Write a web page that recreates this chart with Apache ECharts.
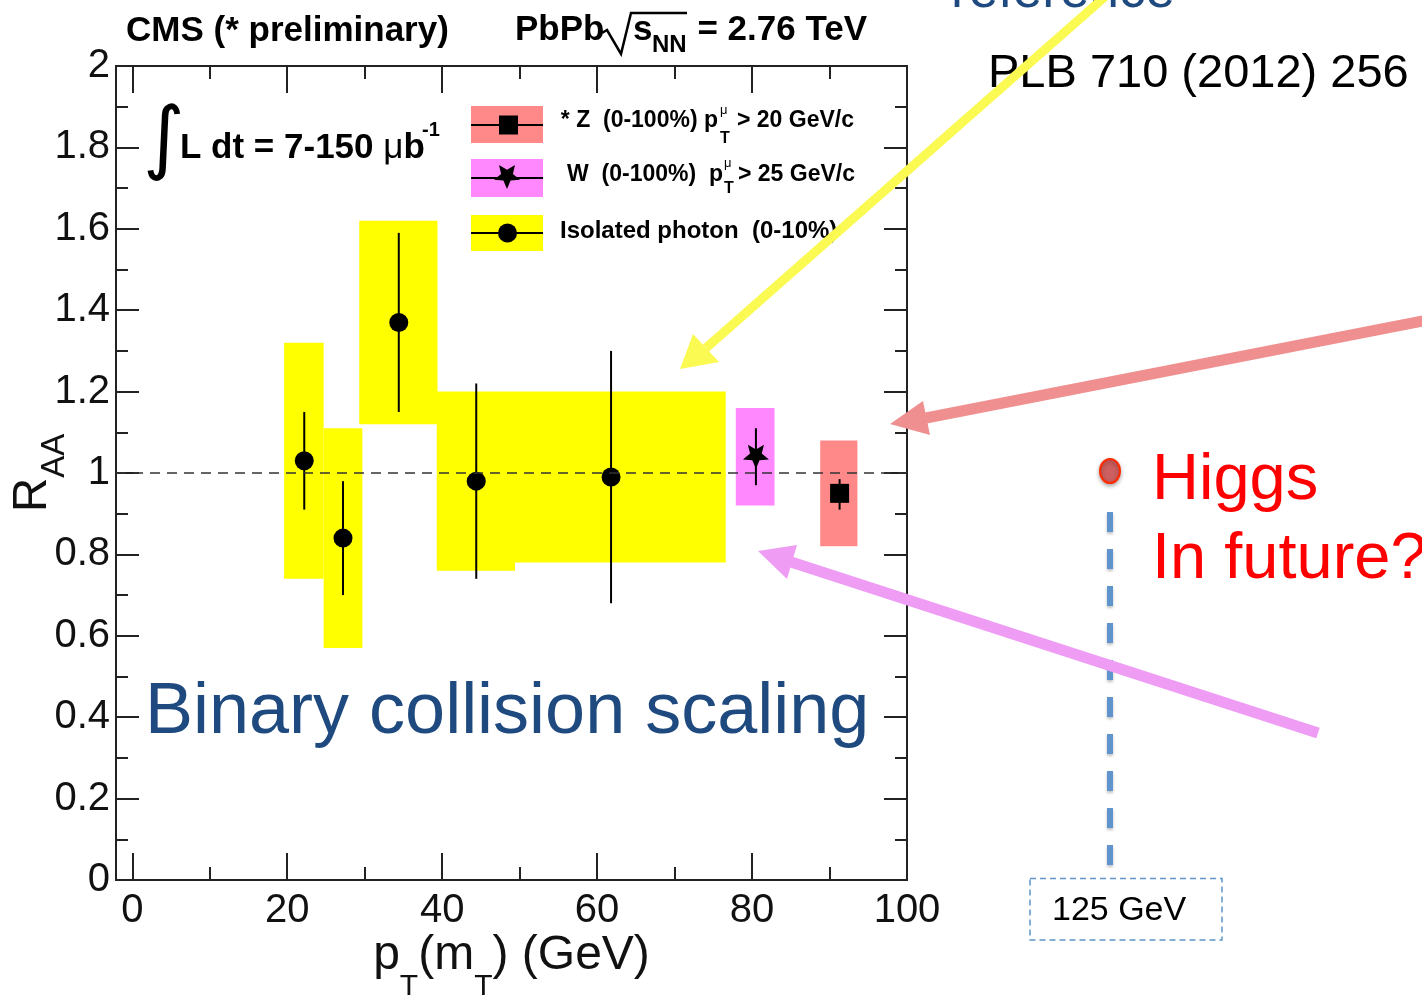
<!DOCTYPE html>
<html><head><meta charset="utf-8">
<script src="https://cdn.jsdelivr.net/npm/echarts@6/dist/echarts.min.js"></script>
<style>html,body{margin:0;padding:0;background:#fff;overflow:hidden}#c{width:1422px;height:998px}</style>
</head><body><div id="c"></div>
<script>
// ---------- data ----------
const xMajorTicks = [0, 20, 40, 60, 80, 100];
const xMinorTicks = [10, 30, 50, 70, 90];
// Isolated photon (0-10%)
const photonPt      = [22.2, 27.2, 34.4, 44.4, 61.8];
const photonRaa     = [1.03, 0.84, 1.37, 0.98, 0.99];
const photonStatLo  = [0.91, 0.70, 1.15, 0.74, 0.68];
const photonStatHi  = [1.15, 0.98, 1.59, 1.22, 1.30];
const photonBinLo   = [19.6, 24.7, 29.3, 39.3, 49.4];
const photonBinHi   = [24.7, 29.7, 39.4, 49.4, 76.6];
const photonSystLo  = [0.74, 0.57, 1.12, 0.76, 0.78];
const photonSystHi  = [1.32, 1.11, 1.62, 1.20, 1.20];
// W (0-100%)
const wPt = [80.5], wRaa = [1.04], wStatLo = [0.97], wStatHi = [1.11];
const wBinLo = [77.9], wBinHi = [82.9], wSystLo = [0.92], wSystHi = [1.16];
// Z (0-100%)
const zPt = [91.3], zRaa = [0.95], zStatLo = [0.91], zStatHi = [0.985];
const zBinLo = [88.8], zBinHi = [93.6], zSystLo = [0.82], zSystHi = [1.08];
const unityLevel = 1;

// ---------- helpers ----------
const FF = 'Liberation Sans, Arial, sans-serif';
const zip = (...arrs) => arrs[0].map((_, i) => arrs.map(a => a[i]));
const STAR = 'path://M100 200 L73.5 136.4 L4.9 130.9 L57.2 86.1 L41.2 19.1 L100 55 L158.8 19.1 L142.8 86.1 L195.1 130.9 L126.5 136.4 Z';
const starPts = [[0, 12], [-3.6, 3.6], [-13, 2.8], [-5.9, -3.1], [-8, -12], [0, -7.2], [8, -12], [5.9, -3.1], [13, 2.8], [3.6, 3.6]];
function boxItem(color) {
  return function (params, api) {
    const a = api.coord([api.value(0), api.value(3)]);
    const b = api.coord([api.value(1), api.value(2)]);
    return { type: 'rect', shape: { x: a[0], y: a[1], width: b[0] - a[0], height: b[1] - a[1] }, style: { fill: color } };
  };
}
function errItem(params, api) {
  const a = api.coord([api.value(0), api.value(1)]);
  const b = api.coord([api.value(0), api.value(2)]);
  return { type: 'line', shape: { x1: a[0], y1: a[1], x2: b[0], y2: b[1] }, style: { stroke: '#000', lineWidth: 2 } };
}
const tickStyle = { color: '#222', width: 2 };
function xAx(pos, vals, len, labels) {
  return {
    type: 'value', min: -2.1, max: 100, position: pos,
    axisLine: { show: false, onZero: false }, splitLine: { show: false },
    axisTick: { show: true, inside: true, length: len, customValues: vals, lineStyle: tickStyle },
    axisLabel: labels ? { show: true, customValues: vals, margin: 11, fontSize: 40, color: '#111', fontFamily: FF } : { show: false }
  };
}
function yAx(pos, labels) {
  return {
    type: 'value', min: 0, max: 2, interval: 0.2, position: pos,
    axisLine: { show: false, onZero: false }, splitLine: { show: false },
    axisTick: { show: true, inside: true, length: 23, lineStyle: tickStyle },
    minorTick: { show: true, splitNumber: 2, length: 12, lineStyle: tickStyle },
    axisLabel: labels ? { show: true, margin: 6, fontSize: 40, color: '#111', fontFamily: FF } : { show: false }
  };
}
function txt(text, x, y, size, opts) {
  opts = opts || {};
  return {
    type: 'text', z: 50, silent: true,
    style: {
      text: text, x: x, y: y, fontSize: size, fontFamily: opts.family || FF, fontWeight: opts.bold ? 'bold' : 'normal',
      fill: opts.color || '#000', align: opts.align || 'left', textAlign: opts.align || 'left',
      verticalAlign: 'middle', textVerticalAlign: 'middle', rich: opts.rich
    }
  };
}

const xMain = xAx('bottom', xMajorTicks, 27, true);
xMain.name = '{m|p}{s|T}{m|(m}{s|T}{m|) (GeV)}';
xMain.nameLocation = 'middle';
xMain.nameGap = 52;
xMain.nameMoveOverlap = false;
xMain.nameTextStyle = { rich: {
  m: { fontSize: 48, fontFamily: FF, color: '#111', verticalAlign: 'top' },
  s: { fontSize: 30, fontFamily: FF, color: '#111', verticalAlign: 'top', padding: [40, 0, 0, 0] }
} };
const yMain = yAx('left', true);
yMain.name = '{r|R}{s|AA}';
yMain.nameLocation = 'middle';
yMain.nameGap = 45;
yMain.nameRotate = 90;
yMain.nameMoveOverlap = false;
yMain.nameTextStyle = { rich: {
  r: { fontSize: 48, fontFamily: FF, color: '#111', verticalAlign: 'top' },
  s: { fontSize: 33, fontFamily: FF, color: '#111', verticalAlign: 'top', padding: [29, 0, 0, 0] }
} };

const chart = echarts.init(document.getElementById('c'));
chart.setOption({
  animation: false,
  backgroundColor: '#fff',
  grid: { left: 116, right: 515, top: 66, bottom: 118, containLabel: false, outerBoundsMode: 'none',
    show: true, borderColor: '#222', borderWidth: 2, backgroundColor: 'transparent' },
  xAxis: [xMain, xAx('bottom', xMinorTicks, 13, false), xAx('top', xMajorTicks, 27, false), xAx('top', xMinorTicks, 13, false)],
  yAxis: [yMain, yAx('right', false)],
  series: [
    { name: 'Isolated photon syst', type: 'custom', z: 1, renderItem: boxItem('#ffff00'), encode: { x: [0, 1], y: [2, 3] },
      data: zip(photonBinLo, photonBinHi, photonSystLo, photonSystHi) },
    { name: 'W syst', type: 'custom', z: 1, renderItem: boxItem('#ff88ff'), encode: { x: [0, 1], y: [2, 3] },
      data: zip(wBinLo, wBinHi, wSystLo, wSystHi) },
    { name: 'Z syst', type: 'custom', z: 1, renderItem: boxItem('#ff8888'), encode: { x: [0, 1], y: [2, 3] },
      data: zip(zBinLo, zBinHi, zSystLo, zSystHi) },
    { name: 'unity', type: 'line', z: 2, data: [],
      markLine: { silent: true, symbol: ['none', 'none'], label: { show: false }, animation: false,
        lineStyle: { color: '#333', type: [10, 7], width: 1.5 }, data: [{ yAxis: unityLevel }] } },
    { name: 'Isolated photon stat', type: 'custom', z: 3, renderItem: errItem, encode: { x: 0, y: [1, 2] },
      data: zip(photonPt, photonStatLo, photonStatHi) },
    { name: 'W stat', type: 'custom', z: 3, renderItem: errItem, encode: { x: 0, y: [1, 2] },
      data: zip(wPt, wStatLo, wStatHi) },
    { name: 'Z stat', type: 'custom', z: 3, renderItem: errItem, encode: { x: 0, y: [1, 2] },
      data: zip(zPt, zStatLo, zStatHi) },
    { name: 'Isolated photon (0-10%)', type: 'scatter', z: 4, symbol: 'circle', symbolSize: 19,
      itemStyle: { color: '#000', opacity: 1 }, data: zip(photonPt, photonRaa) },
    { name: 'W (0-100%)', type: 'scatter', z: 4, symbol: STAR, symbolSize: [26, 24],
      itemStyle: { color: '#000', opacity: 1 }, data: zip(wPt, wRaa) },
    { name: '* Z (0-100%)', type: 'scatter', z: 4, symbol: 'rect', symbolSize: 19,
      itemStyle: { color: '#000', opacity: 1 }, data: zip(zPt, zRaa) }
  ],
  graphic: [
    // header
    txt('CMS (* preliminary)', 126, 31, 35, { bold: true }),
    txt('PbPb', 515, 30, 35, { bold: true }),
    { type: 'polyline', z: 50, silent: true, shape: { points: [[602, 33], [607, 30], [621, 54], [631, 13], [687, 13]] },
      style: { stroke: '#000', lineWidth: 2.5, fill: null } },
    txt('s', 633, 30, 35, { bold: true }),
    txt('NN', 652, 45, 24, { bold: true }),
    txt('= 2.76 TeV', 867, 30, 35, { bold: true, align: 'right' }),
    // luminosity
    txt('\u222B', 143, 143, 80, { family: 'DejaVu Sans, sans-serif' }),
    txt('{b|L dt = 7-150 }{m|\u03BC}{b|b}', 180, 148, 35, { rich: {
      b: { fontSize: 35, fontWeight: 'bold', fontFamily: FF, fill: '#000', color: '#000' },
      m: { fontSize: 35, fontWeight: 'normal', fontFamily: FF, fill: '#000', color: '#000' } } }),
    txt('-1', 422, 130, 20, { bold: true }),
    // legend
    { type: 'rect', z: 40, silent: true, shape: { x: 471, y: 106, width: 72, height: 37 }, style: { fill: '#ff8888' } },
    { type: 'rect', z: 40, silent: true, shape: { x: 471, y: 159, width: 72, height: 38 }, style: { fill: '#ff88ff' } },
    { type: 'rect', z: 40, silent: true, shape: { x: 471, y: 215, width: 72, height: 36 }, style: { fill: '#ffff00' } },
    { type: 'line', z: 41, silent: true, shape: { x1: 471, y1: 125, x2: 543, y2: 125 }, style: { stroke: '#000', lineWidth: 2 } },
    { type: 'line', z: 41, silent: true, shape: { x1: 471, y1: 178, x2: 543, y2: 178 }, style: { stroke: '#000', lineWidth: 2 } },
    { type: 'line', z: 41, silent: true, shape: { x1: 471, y1: 233, x2: 543, y2: 233 }, style: { stroke: '#000', lineWidth: 2 } },
    { type: 'rect', z: 42, silent: true, shape: { x: 499, y: 115.5, width: 19, height: 19 }, style: { fill: '#000' } },
    { type: 'polygon', z: 42, silent: true, shape: { points: starPts.map(p => [507 + p[0], 177 + p[1]]) }, style: { fill: '#000' } },
    { type: 'circle', z: 42, silent: true, shape: { cx: 507.5, cy: 233, r: 9.5 }, style: { fill: '#000' } },
    txt('* Z  (0-100%) p', 718, 121, 23, { bold: true, align: 'right' }),
    txt('\u03BC', 720, 110, 13, {}),
    txt('T', 720, 139, 16, { bold: true }),
    txt('> 20 GeV/c', 737, 121, 23, { bold: true }),
    txt('W  (0-100%)  p', 723, 175, 23, { bold: true, align: 'right' }),
    txt('\u03BC', 724, 163, 13, {}),
    txt('T', 724, 189, 16, { bold: true }),
    txt('> 25 GeV/c', 738, 175, 23, { bold: true }),
    txt('Isolated photon  (0-10%)', 560, 231, 24, { bold: true }),
    // annotations
    txt('Binary collision scaling', 145, 713, 72, { color: '#1f4a80' }),
    txt('reference', 951, -8, 53, { color: '#1f4a80' }),
    txt('PLB 710 (2012) 256', 988, 74, 47, {}),
    txt('Higgs', 1152, 481, 65, { color: '#ff0000' }),
    txt('In future?', 1152, 560, 65, { color: '#ff0000' }),
    { type: 'line', z: 45, silent: true, shape: { x1: 1110, y1: 512, x2: 1110, y2: 866 },
      style: { stroke: '#5f95cc', lineWidth: 6, lineDash: [20, 17], shadowBlur: 3, shadowColor: 'rgba(0,0,0,0.25)', shadowOffsetY: 2 } },
    { type: 'ellipse', z: 46, silent: true, shape: { cx: 1110, cy: 471, rx: 10, ry: 12 },
      style: { fill: '#cc5f5f', stroke: '#ff2a00', lineWidth: 2, shadowBlur: 4, shadowColor: 'rgba(0,0,0,0.3)', shadowOffsetY: 2 } },
    { type: 'rect', z: 45, silent: true, shape: { x: 1030, y: 878.5, width: 192, height: 61.5 },
      style: { fill: null, stroke: '#5f95cc', lineWidth: 1.5, lineDash: [6, 4] } },
    txt('125 GeV', 1052, 911, 34, {}),
    // arrows
    { type: 'line', z: 60, silent: true, shape: { x1: 1108, y1: -6, x2: 706, y2: 348 }, style: { stroke: '#fafa52', lineWidth: 9 } },
    { type: 'polygon', z: 60, silent: true, shape: { points: [[680, 369], [693, 334], [719, 362]] }, style: { fill: '#fafa52' } },
    { type: 'line', z: 60, silent: true, shape: { x1: 1428, y1: 320, x2: 926, y2: 418 }, style: { stroke: '#ef8f8f', lineWidth: 11 } },
    { type: 'polygon', z: 60, silent: true, shape: { points: [[890, 424], [923, 401], [930, 435]] }, style: { fill: '#ef8f8f' } },
    { type: 'line', z: 60, silent: true, shape: { x1: 1318, y1: 733, x2: 791, y2: 562 }, style: { stroke: '#ee9cf4', lineWidth: 11 } },
    { type: 'polygon', z: 60, silent: true, shape: { points: [[758, 551], [797, 545], [787, 579]] }, style: { fill: '#ee9cf4' } }
  ]
});
</script>
</body></html>
